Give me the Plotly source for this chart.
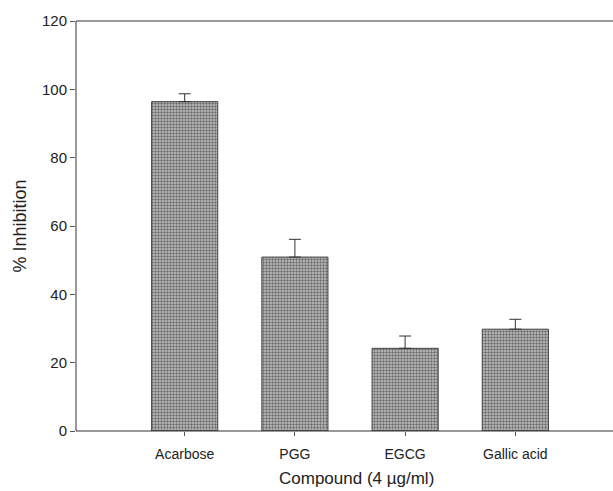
import plotly.graph_objects as go

categories = ["Acarbose", "PGG", "EGCG", "Gallic acid"]
inhibition = [96.4, 50.9, 24.2, 29.8]
error_plus = [2.3, 5.2, 3.6, 2.9]
y_ticks = [0, 20, 40, 60, 80, 100, 120]

fig = go.Figure()
fig.add_trace(go.Bar(
    x=categories,
    y=inhibition,
    width=0.6,
    marker=dict(
        color="#b8b8b8",
        line=dict(color="#444444", width=1),
        pattern=dict(shape=".", fgcolor="#6c6c6c", bgcolor="#c4c4c4", size=3, solidity=0.5),
    ),
    error_y=dict(type="data", array=error_plus, arrayminus=[0] * len(error_plus),
                 symmetric=False, color="#333333", thickness=1, width=6),
    showlegend=False,
))

font = "Liberation Sans, Arial, sans-serif"
axis_line = dict(color="#333333", width=1)
fig.update_layout(
    template="none",
    width=613, height=491,
    margin=dict(l=76, r=0, t=21, b=60),
    paper_bgcolor="white", plot_bgcolor="white",
    font=dict(family=font, size=15, color="#222222"),
    bargap=0.4,
    xaxis=dict(
        type="category",
        range=[-0.986, 3.886],
        showline=False,
        ticks="outside", ticklen=4, tickcolor="#555555",
        ticklabelstandoff=6,
        showgrid=False, zeroline=False,
        tickfont=dict(size=14),
    ),
    yaxis=dict(
        range=[0, 120],
        tickvals=y_ticks,
        showline=False,
        ticks="outside", ticklen=5, tickcolor="#555555",
        showgrid=False, zeroline=False,
        tickfont=dict(size=15),
        title=dict(text="% Inhibition", font=dict(size=18), standoff=10),
    ),
    shapes=[
        dict(type="line", xref="paper", yref="paper", x0=0, x1=1, y0=1, y1=1, line=axis_line),
        dict(type="line", xref="paper", yref="paper", x0=0, x1=1, y0=0, y1=0, line=axis_line),
        dict(type="line", xref="paper", yref="paper", x0=0, x1=0, y0=0, y1=1, line=axis_line),
    ],
    annotations=[dict(text="Compound (4 µg/ml)", xref="paper", yref="paper",
                      x=0.523, y=0, yshift=-47, xanchor="center", yanchor="middle",
                      showarrow=False, font=dict(size=17))],
)

fig.write_html("out.html", config={"displayModeBar": False})
